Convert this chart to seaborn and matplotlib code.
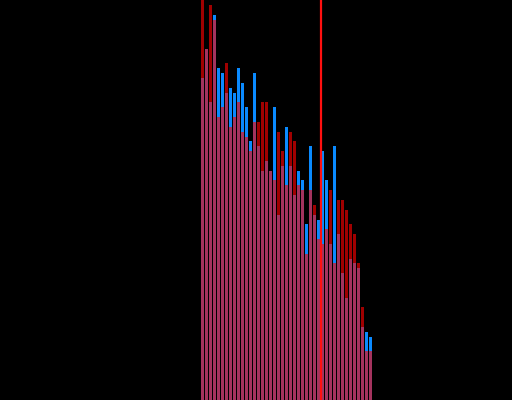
import numpy as np
import pandas as pd
import matplotlib
matplotlib.use("Agg")
import matplotlib.pyplot as plt
import seaborn as sns

# bar heights (count-like units), one entry per bin
blue_counts = [66, 72, 61, 79, 68, 67, 63, 64, 63, 68, 65,
               60, 53, 67, 52, 47, 49, 47, 60, 38, 48, 56,
               48, 42, 47, 45, 36, 52, 38, 37, 51, 45, 32,
               52, 34, 26, 21, 29, 28, 27, 15, 14, 13]
red_counts = [82, 72, 81, 78, 58, 60, 69, 56, 58, 61, 55,
              54, 51, 57, 57, 61, 61, 47, 45, 55, 51, 44,
              55, 53, 44, 43, 30, 43, 40, 33, 32, 35, 43,
              28, 41, 41, 39, 36, 34, 28, 19, 10, 10]
bins = list(range(len(blue_counts)))
marker_pos = 29.5

df = pd.DataFrame({"bin": bins, "blue": blue_counts, "red": red_counts})

fig = plt.figure(figsize=(5.12, 4.0), dpi=100, facecolor="black")
ax = fig.add_axes([0, 0, 1, 1])
ax.set_facecolor("black")

sns.barplot(data=df, x="bin", y="blue", color="#0a8aff", saturation=1,
            width=0.75, linewidth=0, ax=ax)
sns.barplot(data=df, x="bin", y="red", color="#ff0000", saturation=1,
            width=0.75, linewidth=0, alpha=0.63, ax=ax)
ax.axvline(marker_pos, color="#ff1010", lw=1.6)

ax.set_xlim(-50.625, 77.375)
ax.set_ylim(0, 82)
ax.axis("off")

fig.savefig("out.png", dpi=100, facecolor="black")
